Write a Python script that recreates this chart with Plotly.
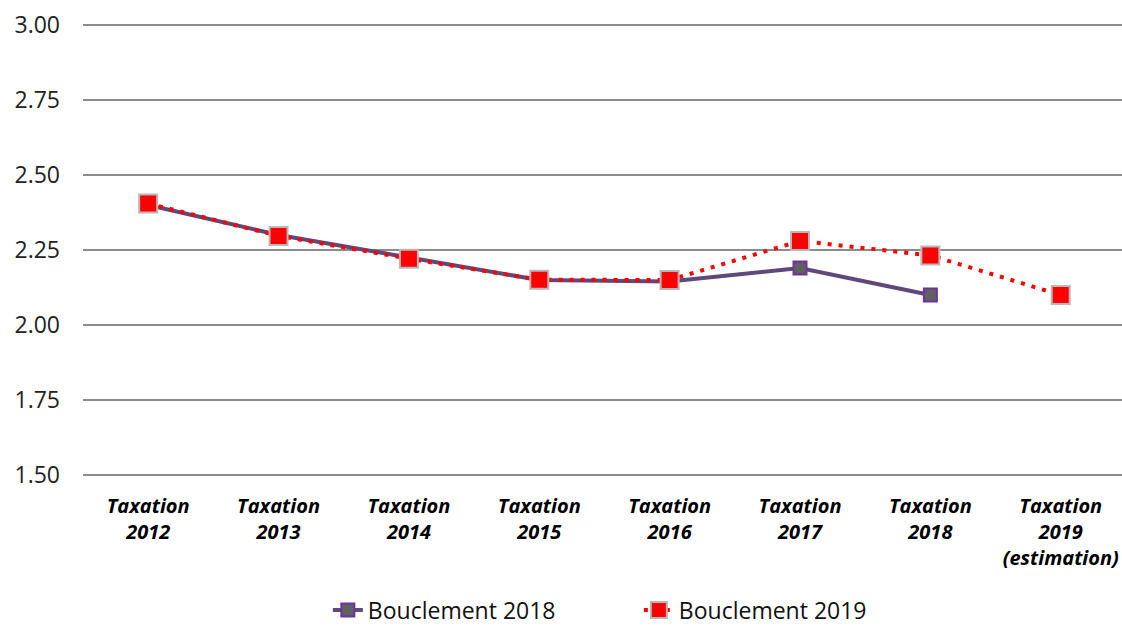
import plotly.graph_objects as go

categories = ["Taxation<br>2012", "Taxation<br>2013", "Taxation<br>2014", "Taxation<br>2015",
              "Taxation<br>2016", "Taxation<br>2017", "Taxation<br>2018", "Taxation<br>2019<br>(estimation)"]
bouclement_2018 = [2.40, 2.30, 2.225, 2.15, 2.145, 2.19, 2.10]
bouclement_2019 = [2.405, 2.297, 2.221, 2.151, 2.15, 2.28, 2.232, 2.10]
y_ticks = [1.50, 1.75, 2.00, 2.25, 2.50, 2.75, 3.00]

fig = go.Figure()
fig.add_trace(go.Scatter(
    x=categories[:len(bouclement_2018)], y=bouclement_2018, name="Bouclement 2018",
    mode="lines+markers",
    line=dict(color="#5f497a", width=4),
    marker=dict(symbol="square", size=13, color="#606060", line=dict(color="#7030a0", width=2)),
))
fig.add_trace(go.Scatter(
    x=categories, y=bouclement_2019, name="Bouclement 2019",
    mode="lines+markers",
    line=dict(color="#ff0000", width=4, dash="4px,7px"),
    marker=dict(symbol="square", size=18, color="#ff0000", line=dict(color="#b8b8b8", width=2)),
))

fig.update_layout(
    width=1122, height=628,
    margin=dict(l=83, r=0, t=21, b=149, autoexpand=False),
    paper_bgcolor="white", plot_bgcolor="white",
    font=dict(family="Open Sans, Liberation Sans, sans-serif", color="#000000", size=22),
    showlegend=True,
    legend=dict(orientation="h", x=0.535, xanchor="center", y=-0.286, yanchor="middle",
                entrywidth=266, font=dict(size=23, color="#111111")),
    xaxis=dict(type="category", range=[-0.5, 7.47], showgrid=False, showline=False,
               tickfont=dict(size=20, family="Open Sans, sans-serif", style="italic", weight="bold"),
               ticks="", ticklabelstandoff=13),
    yaxis=dict(range=[1.487, 3.013], tickvals=y_ticks, tickformat=".2f",
               showgrid=True, gridcolor="#8c8c8c", gridwidth=1.5, zeroline=False,
               showline=False, ticks="", ticklabelstandoff=22, ticklabeloverflow="allow",
               tickfont=dict(size=23, color="#222222")),
)

fig.write_html(
    "out.html",
    config={"displayModeBar": False},
    post_script="document.body.style.margin='0';document.body.style.overflow='hidden';",
)
